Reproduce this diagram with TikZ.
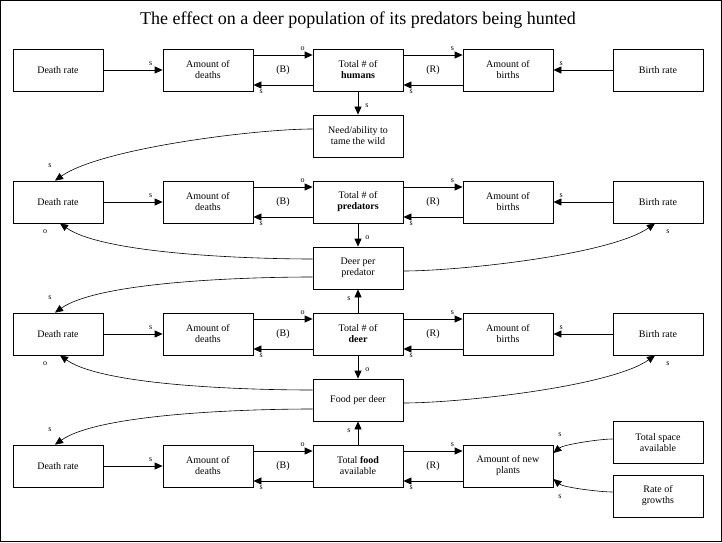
\documentclass[tikz,border=0pt]{standalone}
\usepackage{fontspec}
\setmainfont{Liberation Serif}
\usetikzlibrary{arrows.meta}

\tikzset{
  box/.style={draw, line width=0.8pt, minimum width=90pt, minimum height=42pt, inner sep=1pt, align=center, font=\fontsize{10}{11}\selectfont},
  link/.style={line width=0.8pt, -{Triangle[length=8pt,width=7pt]}},
  curve/.style={line width=0.6pt, -{Triangle[length=8pt,width=7pt]}, looseness=0.55},
  lbl/.style={font=\fontsize{8}{9}\selectfont, inner sep=1pt},
}

\begin{document}
\begin{tikzpicture}[x=1pt,y=1pt]
\useasboundingbox (0,0) rectangle (722,542);
\draw[line width=1pt] (0.5,0.5) rectangle (721.5,541.5); % frame

\node[font=\fontsize{18}{21}\selectfont] (title) at (358,522) {The effect on a deer population of its predators being hunted};

% humans
\node[box] (dr1) at (58,472) {Death rate};
\node[box] (ad1) at (208,472) {Amount of\\deaths};
\node[box] (tot1) at (358,472) {Total \# of\\\textbf{humans}};
\node[box] (ab1) at (508,472) {Amount of\\births};
\node[box] (br1) at (658,472) {Birth rate};
\node[box] (need) at (358,406) {Need/ability to\\tame the wild};

% predators
\node[box] (dr2) at (58,340) {Death rate};
\node[box] (ad2) at (208,340) {Amount of\\deaths};
\node[box] (tot2) at (358,340) {Total \# of\\\textbf{predators}};
\node[box] (ab2) at (508,340) {Amount of\\births};
\node[box] (br2) at (658,340) {Birth rate};
\node[box] (dpp) at (358,274) {Deer per\\predator};

% deer
\node[box] (dr3) at (58,208) {Death rate};
\node[box] (ad3) at (208,208) {Amount of\\deaths};
\node[box] (tot3) at (358,208) {Total \# of\\\textbf{deer}};
\node[box] (ab3) at (508,208) {Amount of\\births};
\node[box] (br3) at (658,208) {Birth rate};
\node[box] (fpd) at (358,142) {Food per deer};

% food
\node[box] (dr4) at (58,76) {Death rate};
\node[box] (ad4) at (208,76) {Amount of\\deaths};
\node[box] (tot4) at (358,76) {Total \textbf{food}\\available};
\node[box] (ab4) at (508,76) {Amount of new\\plants};
\node[box] (ts) at (658,99.5) {Total space\\available};
\node[box] (rog) at (658,46) {Rate of\\growths};

\foreach \r in {1,...,4} {
  \draw[link] (dr\r) -- node[lbl, above=3pt, pos=.8] {s} (ad\r);
  \draw[link] ([yshift=15pt]ad\r.east) -- node[lbl, above=3pt, pos=.83] {o} ([yshift=15pt]tot\r.west);
  \draw[link] ([yshift=-15pt]tot\r.west) -- node[lbl, below=3pt, pos=.87] {s} ([yshift=-15pt]ad\r.east);
  \path (ad\r) -- node {(B)} (tot\r);
  \draw[link] ([yshift=15pt]tot\r.east) -- node[lbl, above=3pt, pos=.83] {s} ([yshift=15pt]ab\r.west);
  \draw[link] ([yshift=-15pt]ab\r.west) -- node[lbl, below=3pt, pos=.87] {s} ([yshift=-15pt]tot\r.east);
  \path (tot\r) -- node {(R)} (ab\r);
}
\foreach \r in {1,2,3}
  \draw[link] (br\r) -- node[lbl, above=3pt, pos=.87] {s} (ab\r);

% vertical links
\draw[link] (tot1) -- node[lbl, right=6pt, pos=.6] {s} (need);
\draw[link] (tot2) -- node[lbl, right=6pt, pos=.6] {o} (dpp);
\draw[link] (tot3) -- node[lbl, left=6pt, pos=.6] {s} (dpp);
\draw[link] (tot3) -- node[lbl, right=6pt, pos=.6] {o} (fpd);
\draw[link] (tot4) -- node[lbl, left=6pt, pos=.6] {s} (fpd);

% curved links
\draw[curve] ([yshift=7pt]need.west) to[out=180, in=35] ([xshift=-3pt]dr2.north);
\node[lbl] at (50,376) {s};
\draw[curve] ([yshift=9pt]dpp.west) to[out=180, in=-35] ([xshift=2pt]dr2.south);
\node[lbl] at (45,310) {o};
\draw[curve] ([yshift=-9pt]dpp.west) to[out=180, in=35] ([xshift=-3pt]dr3.north);
\node[lbl] at (50,244) {s};
\draw[curve] ([yshift=-3pt]dpp.east) to[out=0, in=-145] ([xshift=-3pt]br2.south);
\node[lbl] at (668,310) {s};
\draw[curve] ([yshift=10pt]fpd.west) to[out=180, in=-35] ([xshift=2pt]dr3.south);
\node[lbl] at (45,178) {o};
\draw[curve] ([yshift=-9pt]fpd.west) to[out=180, in=35] ([xshift=-3pt]dr4.north);
\node[lbl] at (50,112) {s};
\draw[curve] ([yshift=-3pt]fpd.east) to[out=0, in=-145] ([xshift=-3pt]br3.south);
\node[lbl] at (668,178) {s};
\draw[curve] ([yshift=3.5pt]ts.west) to[out=180, in=40] ([yshift=13pt]ab4.east);
\node[lbl] at (560,107) {s};
\draw[curve] ([yshift=4pt]rog.west) to[out=180, in=-40] ([yshift=-13pt]ab4.east);
\node[lbl] at (560,45) {s};
\end{tikzpicture}
\end{document}
